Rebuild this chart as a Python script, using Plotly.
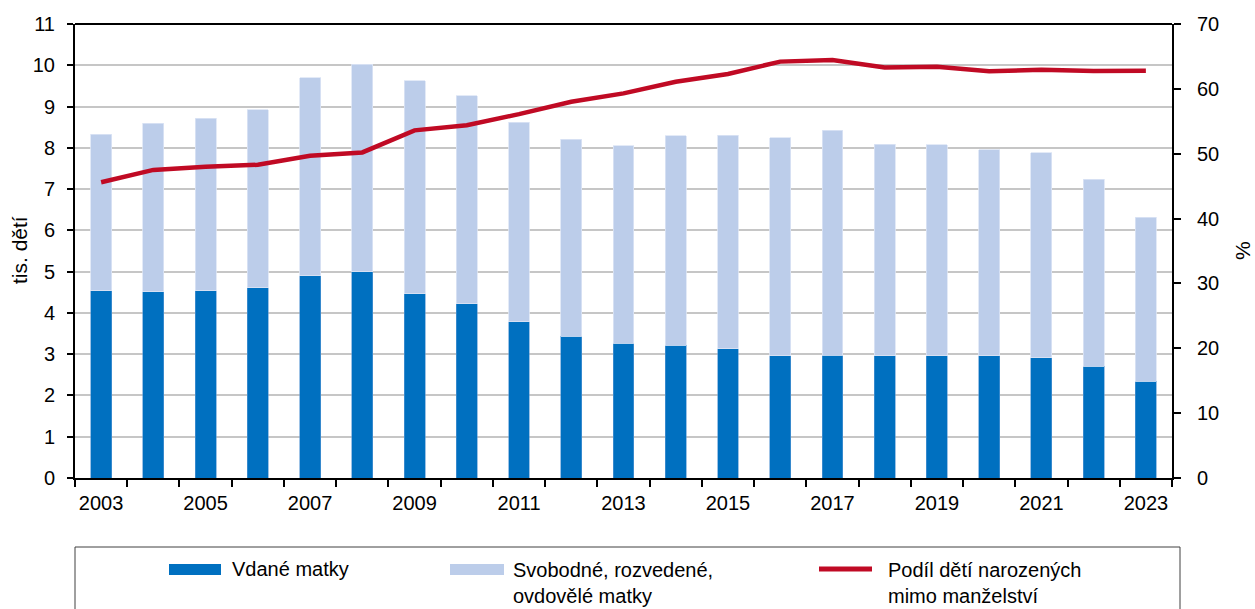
import plotly.graph_objects as go

years = list(range(2003, 2024))
married = [4.54, 4.51, 4.54, 4.61, 4.90, 5.00, 4.47, 4.22, 3.79, 3.44, 3.27,
           3.22, 3.13, 2.96, 2.98, 2.96, 2.96, 2.96, 2.91, 2.71, 2.35]
total = [8.33, 8.59, 8.72, 8.92, 9.70, 10.03, 9.62, 9.26, 8.62, 8.21, 8.05,
         8.29, 8.31, 8.25, 8.43, 8.09, 8.08, 7.95, 7.88, 7.24, 6.32]
unmarried = [round(t - m, 2) for t, m in zip(total, married)]
share = [45.6, 47.5, 48.0, 48.3, 49.7, 50.2, 53.6, 54.4, 56.1, 58.0, 59.3,
         61.1, 62.3, 64.2, 64.45, 63.3, 63.4, 62.7, 62.95, 62.75, 62.8]

left_ticks = list(range(0, 12))
right_ticks = list(range(0, 80, 10))
x_label_years = list(range(2003, 2024, 2))

names = ["Vdané matky", "Svobodné, rozvedené,<br>ovdovělé matky",
         "Podíl dětí narozených<br>mimo manželství"]
y_title = "tis. dětí"
y2_title = "%"

DARK = "#0070C0"
LIGHT = "#BCCDEA"
RED = "#C00A24"
FONT = "Liberation Sans, Arial, sans-serif"
FS = 20

W, H = 1255, 609
L, R, T, B = 75, 83, 24, 131
PW, PH = W - L - R, H - T - B


def px(x):
    return (x - L) / PW


def py(y):
    return (H - B - y) / PH


fig = go.Figure()
fig.add_trace(go.Bar(x=years, y=married, name=names[0], marker_color=DARK,
                     marker_line=dict(color="#5A9AD6", width=0.6), width=0.4))
fig.add_trace(go.Bar(x=years, y=unmarried, name=names[1], marker_color=LIGHT,
                     marker_line=dict(color="#DCE5F5", width=0.8), width=0.4))
fig.add_trace(go.Scatter(x=years, y=share, name=names[2], mode="lines",
                         line=dict(color=RED, width=4.5), yaxis="y2"))

shapes = [
    # legend box
    dict(type="rect", xref="paper", yref="paper", x0=px(75), x1=px(1180),
         y0=py(615), y1=py(547), line=dict(color="#404040", width=1),
         fillcolor="rgba(0,0,0,0)"),
    dict(type="rect", xref="paper", yref="paper", x0=px(169), x1=px(221),
         y0=py(575), y1=py(564), line=dict(width=0), fillcolor=DARK),
    dict(type="rect", xref="paper", yref="paper", x0=px(450), x1=px(504),
         y0=py(575), y1=py(564), line=dict(width=0), fillcolor=LIGHT),
    dict(type="line", xref="paper", yref="paper", x0=px(819), x1=px(872),
         y0=py(569), y1=py(569), line=dict(color=RED, width=5)),
    # top frame line
    dict(type="line", xref="paper", yref="paper", x0=0, x1=1, y0=1, y1=1,
         line=dict(color="black", width=2)),
]

ann_font = dict(family=FONT, size=FS, color="black")
annotations = [
    dict(xref="paper", yref="paper", x=px(230), y=py(569), text=names[0],
         showarrow=False, xanchor="left", yanchor="middle", font=ann_font),
    dict(xref="paper", yref="paper", x=px(511), y=py(583), text=names[1],
         showarrow=False, xanchor="left", yanchor="middle", align="left",
         font=ann_font),
    dict(xref="paper", yref="paper", x=px(886), y=py(583), text=names[2],
         showarrow=False, xanchor="left", yanchor="middle", align="left",
         font=ann_font),
    # axis titles
    dict(xref="paper", yref="paper", x=px(19), y=py(250), text=y_title,
         textangle=-90, showarrow=False, xanchor="center", yanchor="middle",
         font=dict(family=FONT, size=21, color="black")),
    dict(xref="paper", yref="paper", x=px(1242), y=py(251), text=y2_title,
         textangle=-90, showarrow=False, xanchor="center", yanchor="middle",
         font=dict(family=FONT, size=21, color="black")),
]

fig.update_layout(
    width=W, height=H,
    margin=dict(l=L, r=R, t=T, b=B, pad=0),
    barmode="stack",
    bargap=0.6,
    showlegend=False,
    plot_bgcolor="white",
    paper_bgcolor="white",
    font=dict(family=FONT, size=FS, color="black"),
    shapes=shapes,
    annotations=annotations,
    xaxis=dict(
        range=[2002.5, 2023.5],
        tickvals=x_label_years,
        ticktext=[str(y) for y in x_label_years],
        ticks="",
        automargin=False,
        showline=True, linecolor="black", linewidth=2,
        showgrid=False, zeroline=False,
        ticklabelstandoff=6,
        minor=dict(tickvals=[y - 0.5 for y in years] + [2023.5],
                   ticks="outside", ticklen=7, tickcolor="black",
                   tickwidth=1.5, showgrid=False),
    ),
    yaxis=dict(
        range=[0, 11],
        tickvals=left_ticks,
        automargin=False,
        ticks="outside", ticklen=6, tickcolor="black", tickwidth=1.5,
        showline=True, linecolor="black", linewidth=2,
        showgrid=True, gridcolor="#C6C6C6", gridwidth=1.5,
        zeroline=False,
        ticklabelstandoff=8,
    ),
    yaxis2=dict(
        range=[0, 70],
        tickvals=right_ticks,
        overlaying="y", side="right",
        automargin=False,
        ticks="outside", ticklen=7, tickcolor="black", tickwidth=1.5,
        showline=True, linecolor="black", linewidth=2,
        showgrid=False, zeroline=False,
        ticklabelstandoff=12,
    ),
)

fig.write_html("out.html", config={"displayModeBar": False},
               post_script="document.body.style.margin='0';")
